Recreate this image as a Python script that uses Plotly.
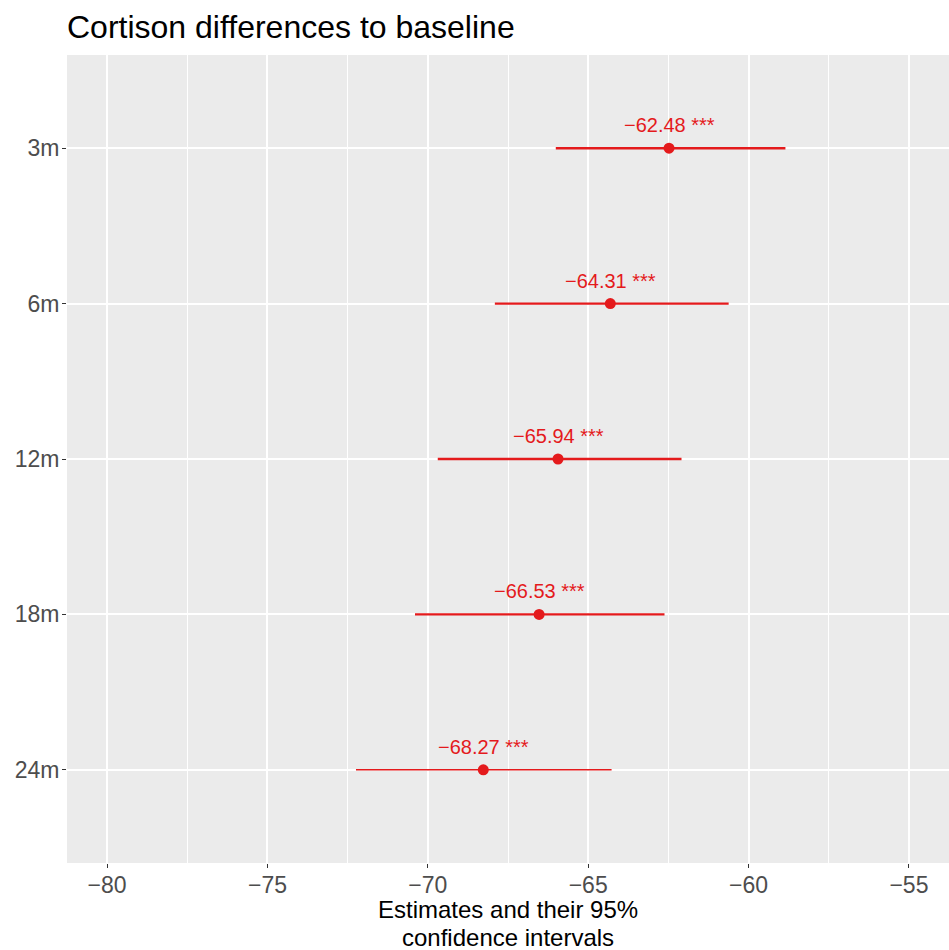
import plotly.graph_objects as go

categories = ["3m", "6m", "12m", "18m", "24m"]
estimates = [-62.48, -64.31, -65.94, -66.53, -68.27]
ci_low = [-66.01, -67.91, -69.69, -70.40, -72.24]
ci_high = [-58.85, -60.62, -62.09, -62.62, -64.27]
signif = ["***", "***", "***", "***", "***"]
x_ticks = [-80, -75, -70, -65, -60, -55]
x_title_lines = ["Estimates and their 95%", "confidence intervals"]

RED = "#E41A1C"
FONT = "Liberation Sans, Arial, sans-serif"
line_widths = [2.4, 2.4, 2.4, 2.4, 1.6]

fig = go.Figure()
for i, cat in enumerate(categories):
    fig.add_trace(go.Scatter(
        x=[estimates[i]], y=[cat], mode="markers",
        marker=dict(color=RED, size=11),
        error_x=dict(type="data", symmetric=False,
                     array=[ci_high[i] - estimates[i]],
                     arrayminus=[estimates[i] - ci_low[i]],
                     color=RED, thickness=line_widths[i], width=0),
        showlegend=False, hoverinfo="skip",
    ))
    fig.add_annotation(
        x=estimates[i], y=cat, yshift=23,
        text=f"{estimates[i]:.2f}".replace("-", "\u2212") + " " + signif[i],
        showarrow=False, font=dict(family=FONT, size=20, color=RED),
        xanchor="center", yanchor="middle",
    )

for j, line in enumerate(x_title_lines):
    fig.add_annotation(
        x=0.5, xref="paper", y=0, yref="paper", yshift=-46 - 28 * j,
        text=line, showarrow=False,
        font=dict(family=FONT, size=24, color="black"),
        xanchor="center", yanchor="middle", borderpad=0,
    )

fig.update_layout(
    width=949, height=950,
    margin=dict(l=67, r=0, t=55, b=87),
    paper_bgcolor="white", plot_bgcolor="#EBEBEB",
    font=dict(family=FONT),
    title=dict(text="Cortison differences to baseline",
               font=dict(family=FONT, size=32, color="black"),
               x=0, xref="paper", xanchor="left",
               y=1 - 27 / 950, yref="container", yanchor="middle"),
)
fig.update_xaxes(
    range=[-81.25, -53.75], tickvals=x_ticks,
    ticktext=[str(v).replace("-", "\u2212") for v in x_ticks],
    ticks="outside", ticklen=4, tickcolor="#333333", tickwidth=1.1,
    tickfont=dict(family=FONT, size=23, color="#4D4D4D"),
    ticklabelstandoff=-3,
    showgrid=True, gridcolor="white", gridwidth=1.5,
    minor=dict(tickvals=[-77.5, -72.5, -67.5, -62.5, -57.5], showgrid=True,
               gridcolor="white", gridwidth=0.75, ticks=""),
    zeroline=False, showline=False,
)
fig.update_yaxes(
    type="category", categoryorder="array", categoryarray=categories,
    range=[4.6, -0.6],
    ticks="outside", ticklen=4, tickcolor="#333333", tickwidth=1.1,
    tickfont=dict(family=FONT, size=23, color="#4D4D4D"),
    ticklabelstandoff=-2,
    showgrid=True, gridcolor="white", gridwidth=1.5,
    zeroline=False, showline=False,
)

fig.write_html("out.html")
